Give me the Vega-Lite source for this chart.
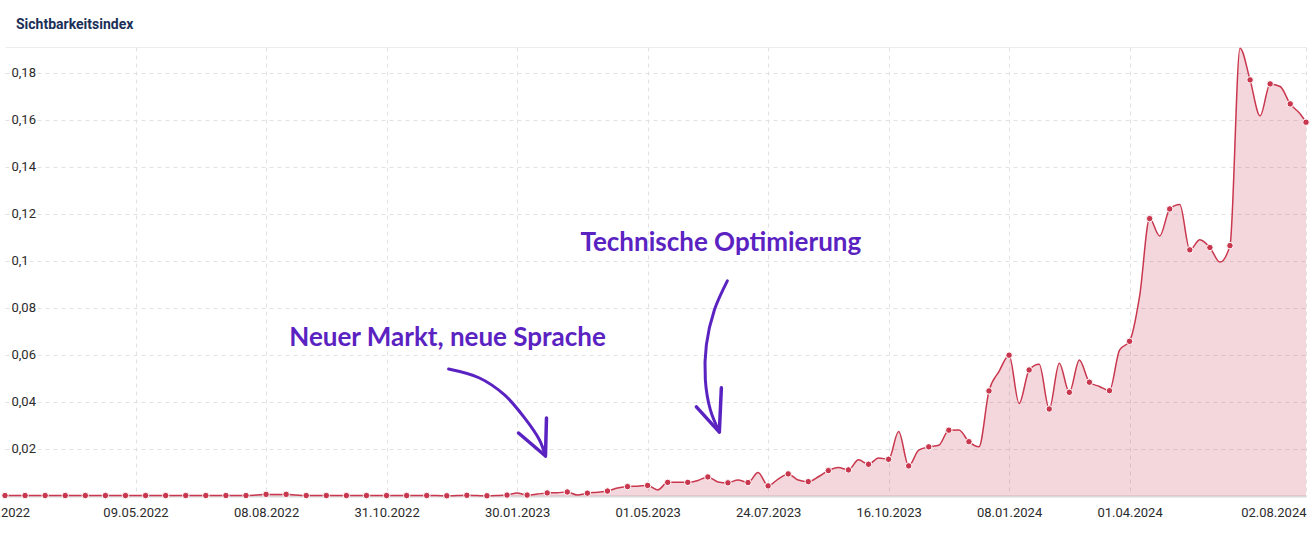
{
  "$schema": "https://vega.github.io/schema/vega-lite/v6.json",
  "autosize": {"type": "none"},
  "width": 1301,
  "height": 449,
  "padding": {"left": 5, "top": 47, "right": 4, "bottom": 39},
  "background": "white",
  "title": {"text": "Sichtbarkeitsindex", "anchor": "start", "frame": "group", "dx": 11, "offset": 13, "font": "Roboto", "fontSize": 14, "fontWeight": "bold", "color": "#1b2f57"},
  "config": {"view": {"stroke": null}, "font": "Roboto"},
  "datasets": {
    "vis": [
      {"d": "2022-02-07", "v": 0.0002}, {"d": "2022-02-14", "v": 0.0002}, {"d": "2022-02-21", "v": 0.0002}, {"d": "2022-02-28", "v": 0.0002},
      {"d": "2022-03-07", "v": 0.0002}, {"d": "2022-03-14", "v": 0.0002}, {"d": "2022-03-21", "v": 0.0002}, {"d": "2022-03-28", "v": 0.0002},
      {"d": "2022-04-04", "v": 0.0002}, {"d": "2022-04-11", "v": 0.0002}, {"d": "2022-04-18", "v": 0.0002}, {"d": "2022-04-25", "v": 0.0002},
      {"d": "2022-05-02", "v": 0.0002}, {"d": "2022-05-09", "v": 0.0002}, {"d": "2022-05-16", "v": 0.0002}, {"d": "2022-05-23", "v": 0.0002},
      {"d": "2022-05-30", "v": 0.0002}, {"d": "2022-06-06", "v": 0.0002}, {"d": "2022-06-13", "v": 0.0002}, {"d": "2022-06-20", "v": 0.0002},
      {"d": "2022-06-27", "v": 0.0002}, {"d": "2022-07-04", "v": 0.0002}, {"d": "2022-07-11", "v": 0.0002}, {"d": "2022-07-18", "v": 0.0002},
      {"d": "2022-07-25", "v": 0.0002}, {"d": "2022-08-01", "v": 0.0004}, {"d": "2022-08-08", "v": 0.0007}, {"d": "2022-08-15", "v": 0.0006},
      {"d": "2022-08-22", "v": 0.0007}, {"d": "2022-08-29", "v": 0.0004}, {"d": "2022-09-05", "v": 0.0002}, {"d": "2022-09-12", "v": 0.0002},
      {"d": "2022-09-19", "v": 0.0002}, {"d": "2022-09-26", "v": 0.0002}, {"d": "2022-10-03", "v": 0.0002}, {"d": "2022-10-10", "v": 0.0002},
      {"d": "2022-10-17", "v": 0.0002}, {"d": "2022-10-24", "v": 0.0002}, {"d": "2022-10-31", "v": 0.0002}, {"d": "2022-11-07", "v": 0.0002},
      {"d": "2022-11-14", "v": 0.0002}, {"d": "2022-11-21", "v": 0.0002}, {"d": "2022-11-28", "v": 0.0002}, {"d": "2022-12-05", "v": 0.0002},
      {"d": "2022-12-12", "v": 0.0001}, {"d": "2022-12-19", "v": 0.0002}, {"d": "2022-12-26", "v": 0.0003}, {"d": "2023-01-02", "v": 0.0002},
      {"d": "2023-01-09", "v": 0.0001}, {"d": "2023-01-16", "v": 0.0002}, {"d": "2023-01-23", "v": 0.0004}, {"d": "2023-01-30", "v": 0.0013},
      {"d": "2023-02-06", "v": 0.0004}, {"d": "2023-02-13", "v": 0.0008}, {"d": "2023-02-20", "v": 0.0013}, {"d": "2023-02-27", "v": 0.0014},
      {"d": "2023-03-06", "v": 0.0017}, {"d": "2023-03-13", "v": 0.0004}, {"d": "2023-03-20", "v": 0.0012}, {"d": "2023-03-27", "v": 0.0016},
      {"d": "2023-04-03", "v": 0.0021}, {"d": "2023-04-10", "v": 0.0034}, {"d": "2023-04-17", "v": 0.0040}, {"d": "2023-04-24", "v": 0.0042},
      {"d": "2023-05-01", "v": 0.0045}, {"d": "2023-05-08", "v": 0.0026}, {"d": "2023-05-15", "v": 0.0058}, {"d": "2023-05-22", "v": 0.0059},
      {"d": "2023-05-29", "v": 0.0058}, {"d": "2023-06-05", "v": 0.0066}, {"d": "2023-06-12", "v": 0.0081}, {"d": "2023-06-19", "v": 0.0060},
      {"d": "2023-06-26", "v": 0.0056}, {"d": "2023-07-03", "v": 0.0068}, {"d": "2023-07-10", "v": 0.0057}, {"d": "2023-07-17", "v": 0.0100},
      {"d": "2023-07-24", "v": 0.0043}, {"d": "2023-07-31", "v": 0.0072}, {"d": "2023-08-07", "v": 0.0094}, {"d": "2023-08-14", "v": 0.0068},
      {"d": "2023-08-21", "v": 0.0061}, {"d": "2023-08-28", "v": 0.0082}, {"d": "2023-09-04", "v": 0.0108}, {"d": "2023-09-11", "v": 0.0121},
      {"d": "2023-09-18", "v": 0.0111}, {"d": "2023-09-25", "v": 0.0154}, {"d": "2023-10-02", "v": 0.0135}, {"d": "2023-10-09", "v": 0.0162},
      {"d": "2023-10-16", "v": 0.0156}, {"d": "2023-10-23", "v": 0.0274}, {"d": "2023-10-30", "v": 0.0128}, {"d": "2023-11-06", "v": 0.0195},
      {"d": "2023-11-13", "v": 0.0209}, {"d": "2023-11-20", "v": 0.0216}, {"d": "2023-11-27", "v": 0.0280}, {"d": "2023-12-04", "v": 0.0281},
      {"d": "2023-12-11", "v": 0.0231}, {"d": "2023-12-18", "v": 0.0209}, {"d": "2023-12-25", "v": 0.0447}, {"d": "2024-01-01", "v": 0.0530},
      {"d": "2024-01-08", "v": 0.0599}, {"d": "2024-01-15", "v": 0.0394}, {"d": "2024-01-22", "v": 0.0536}, {"d": "2024-01-29", "v": 0.0560},
      {"d": "2024-02-05", "v": 0.0370}, {"d": "2024-02-12", "v": 0.0565}, {"d": "2024-02-19", "v": 0.0441}, {"d": "2024-02-26", "v": 0.0579},
      {"d": "2024-03-04", "v": 0.0484}, {"d": "2024-03-11", "v": 0.0466}, {"d": "2024-03-18", "v": 0.0448}, {"d": "2024-03-25", "v": 0.0621},
      {"d": "2024-04-01", "v": 0.0658}, {"d": "2024-04-08", "v": 0.0850}, {"d": "2024-04-15", "v": 0.1180}, {"d": "2024-04-22", "v": 0.1106},
      {"d": "2024-04-29", "v": 0.1221}, {"d": "2024-05-06", "v": 0.1240}, {"d": "2024-05-13", "v": 0.1047}, {"d": "2024-05-20", "v": 0.1090},
      {"d": "2024-05-27", "v": 0.1057}, {"d": "2024-06-03", "v": 0.0995}, {"d": "2024-06-10", "v": 0.1065}, {"d": "2024-06-17", "v": 0.1905},
      {"d": "2024-06-24", "v": 0.1770}, {"d": "2024-07-01", "v": 0.1617}, {"d": "2024-07-08", "v": 0.1753}, {"d": "2024-07-15", "v": 0.1742},
      {"d": "2024-07-22", "v": 0.1668}, {"d": "2024-07-29", "v": 0.1625}, {"d": "2024-08-02", "v": 0.1590}
    ],
    "notes": [
      {"d": "2022-12-12T13:00:00Z", "v": 0.0638, "t": "Neuer Markt, neue Sprache"},
      {"d": "2023-06-21T01:00:00Z", "v": 0.1043, "t": "Technische Optimierung"}
    ],
    "arrows": [
      {"a": 1, "p": "shaft", "o": 1, "d": "2022-12-13T06:00:00Z", "v": 0.0540},
      {"a": 1, "p": "shaft", "o": 2, "d": "2023-01-03T19:00:00Z", "v": 0.0502},
      {"a": 1, "p": "shaft", "o": 3, "d": "2023-01-21T06:00:00Z", "v": 0.0430},
      {"a": 1, "p": "shaft", "o": 4, "d": "2023-02-04T05:00:00Z", "v": 0.0332},
      {"a": 1, "p": "shaft", "o": 5, "d": "2023-02-14T15:00:00Z", "v": 0.0238},
      {"a": 1, "p": "shaft", "o": 6, "d": "2023-02-18T19:00:00Z", "v": 0.0170},
      {"a": 1, "p": "head", "o": 1, "d": "2023-01-31T00:00:00Z", "v": 0.0268},
      {"a": 1, "p": "head", "o": 2, "d": "2023-02-18T19:00:00Z", "v": 0.0170},
      {"a": 1, "p": "head", "o": 3, "d": "2023-02-19T12:00:00Z", "v": 0.0332},
      {"a": 2, "p": "shaft", "o": 1, "d": "2023-06-25T14:00:00Z", "v": 0.0915},
      {"a": 2, "p": "shaft", "o": 2, "d": "2023-06-16T13:00:00Z", "v": 0.0791},
      {"a": 2, "p": "shaft", "o": 3, "d": "2023-06-10T23:00:00Z", "v": 0.0643},
      {"a": 2, "p": "shaft", "o": 4, "d": "2023-06-10T06:00:00Z", "v": 0.0494},
      {"a": 2, "p": "shaft", "o": 5, "d": "2023-06-13T18:00:00Z", "v": 0.0366},
      {"a": 2, "p": "shaft", "o": 6, "d": "2023-06-20T00:00:00Z", "v": 0.0272},
      {"a": 2, "p": "head", "o": 1, "d": "2023-06-04T00:00:00Z", "v": 0.0379},
      {"a": 2, "p": "head", "o": 2, "d": "2023-06-20T00:00:00Z", "v": 0.0272},
      {"a": 2, "p": "head", "o": 3, "d": "2023-06-21T10:00:00Z", "v": 0.0460}
    ]
  },
  "resolve": {"axis": {"x": "independent", "y": "independent"}},
  "layer": [
    {
      "data": {"name": "vis"},
      "mark": {"type": "area", "interpolate": "monotone", "color": "#c9374e", "opacity": 0.2},
      "encoding": {
        "x": {"field": "d", "type": "temporal",
          "scale": {"type": "utc", "domain": [{"year": 2022, "month": 2, "date": 7, "utc": true}, {"year": 2024, "month": 8, "date": 2, "utc": true}], "nice": false},
          "axis": {"orient": "bottom", "title": null, "format": "%d.%m.%Y",
            "values": [
              {"year": 2022, "month": 2, "date": 7, "utc": true},
              {"year": 2022, "month": 5, "date": 9, "utc": true},
              {"year": 2022, "month": 8, "date": 8, "utc": true},
              {"year": 2022, "month": 10, "date": 31, "utc": true},
              {"year": 2023, "month": 1, "date": 30, "utc": true},
              {"year": 2023, "month": 5, "date": 1, "utc": true},
              {"year": 2023, "month": 7, "date": 24, "utc": true},
              {"year": 2023, "month": 10, "date": 16, "utc": true},
              {"year": 2024, "month": 1, "date": 8, "utc": true},
              {"year": 2024, "month": 4, "date": 1, "utc": true},
              {"year": 2024, "month": 8, "date": 2, "utc": true}
            ],
            "labelFont": "Roboto", "labelFontSize": 13, "labelColor": "#2b2b2b",
            "ticks": false, "tickSize": 0, "labelPadding": 10, "labelFlush": false, "labelOverlap": false,
            "labelAlign": {"condition": {"test": "datum.value > utc(2024, 6, 20)", "value": "right"}, "value": "center"},
            "labelOffset": {"condition": {"test": "datum.value < utc(2022, 2, 1)", "value": -8}, "value": 0},
            "domainColor": "#d9d9d9", "domainWidth": 2,
            "grid": true, "gridDash": [4, 4], "gridWidth": 1,
            "gridColor": {"condition": {"test": "datum.value < utc(2022, 2, 1)", "value": "transparent"}, "value": "#e2e2e2"}
          }
        },
        "y": {"field": "v", "type": "quantitative",
          "scale": {"domain": [0, 0.191], "nice": false},
          "axis": {"title": null, "values": [0.02, 0.04, 0.06, 0.08, 0.1, 0.12, 0.14, 0.16, 0.18],
            "labelExpr": "replace(format(datum.value, '.2~f'), '.', ',')",
            "labelAlign": "left", "labelPadding": -6, "ticks": false, "tickSize": 0, "domain": false,
            "labelFont": "Roboto", "labelFontSize": 13, "labelColor": "#2b2b2b", "labelBaseline": "middle",
            "grid": true, "gridColor": "#e2e2e2", "gridDash": [4, 4], "gridWidth": 1
          }
        }
      }
    },
    {
      "data": {"name": "vis"},
      "mark": {"type": "line", "interpolate": "monotone", "color": "#c9374e", "strokeWidth": 1.5},
      "encoding": {
        "x": {"field": "d", "type": "temporal", "scale": {"type": "utc", "domain": [{"year": 2022, "month": 2, "date": 7, "utc": true}, {"year": 2024, "month": 8, "date": 2, "utc": true}], "nice": false}, "axis": null},
        "y": {"field": "v", "type": "quantitative", "scale": {"domain": [0, 0.191], "nice": false}, "axis": null}
      }
    },
    {
      "data": {"name": "vis"},
      "transform": [
        {"window": [{"op": "row_number", "as": "rn"}], "sort": [{"field": "d", "order": "ascending"}]},
        {"filter": "datum.rn % 2 == 1"}
      ],
      "mark": {"type": "point", "filled": true, "size": 42, "color": "#c9374e", "stroke": "white", "strokeWidth": 1, "opacity": 1},
      "encoding": {
        "x": {"field": "d", "type": "temporal", "scale": {"type": "utc", "domain": [{"year": 2022, "month": 2, "date": 7, "utc": true}, {"year": 2024, "month": 8, "date": 2, "utc": true}], "nice": false}, "axis": null},
        "y": {"field": "v", "type": "quantitative", "scale": {"domain": [0, 0.191], "nice": false}, "axis": null}
      }
    },
    {
      "data": {"name": "arrows"},
      "transform": [{"filter": "datum.p == 'shaft'"}],
      "mark": {"type": "line", "interpolate": "catmull-rom", "color": "#5b22c2", "strokeWidth": 3, "strokeCap": "round"},
      "encoding": {
        "x": {"field": "d", "type": "temporal", "scale": {"type": "utc", "domain": [{"year": 2022, "month": 2, "date": 7, "utc": true}, {"year": 2024, "month": 8, "date": 2, "utc": true}], "nice": false}, "axis": null},
        "y": {"field": "v", "type": "quantitative", "scale": {"domain": [0, 0.191], "nice": false}, "axis": null},
        "detail": {"field": "a"},
        "order": {"field": "o"}
      }
    },
    {
      "data": {"name": "arrows"},
      "transform": [{"filter": "datum.p == 'head'"}],
      "mark": {"type": "line", "interpolate": "linear", "color": "#5b22c2", "strokeWidth": 3.5, "strokeCap": "round", "strokeJoin": "round"},
      "encoding": {
        "x": {"field": "d", "type": "temporal", "scale": {"type": "utc", "domain": [{"year": 2022, "month": 2, "date": 7, "utc": true}, {"year": 2024, "month": 8, "date": 2, "utc": true}], "nice": false}, "axis": null},
        "y": {"field": "v", "type": "quantitative", "scale": {"domain": [0, 0.191], "nice": false}, "axis": null},
        "detail": {"field": "a"},
        "order": {"field": "o"}
      }
    },
    {
      "data": {"name": "notes"},
      "mark": {"type": "text", "font": "Lato", "fontWeight": "bold", "fontSize": 26, "color": "#5b22c2", "align": "center", "baseline": "alphabetic"},
      "encoding": {
        "x": {"field": "d", "type": "temporal", "scale": {"type": "utc", "domain": [{"year": 2022, "month": 2, "date": 7, "utc": true}, {"year": 2024, "month": 8, "date": 2, "utc": true}], "nice": false},
          "axis": {"orient": "top", "title": null, "labels": false, "ticks": false, "grid": false, "domain": true, "domainColor": "#ececec", "domainWidth": 1}},
        "y": {"field": "v", "type": "quantitative", "scale": {"domain": [0, 0.191], "nice": false}, "axis": null},
        "text": {"field": "t"}
      }
    }
  ]
}
